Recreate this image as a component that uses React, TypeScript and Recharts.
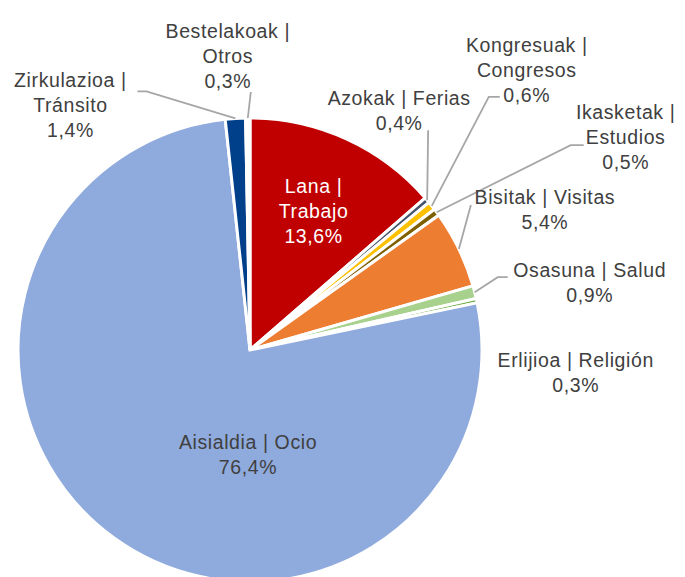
import React from 'react';
import { PieChart, Pie, Cell } from 'recharts';

const basque = ['Lana', 'Azokak', 'Kongresuak', 'Ikasketak', 'Bisitak', 'Osasuna', 'Erlijioa', 'Aisialdia', 'Zirkulazioa', 'Bestelakoak'];
const spanish = ['Trabajo', 'Ferias', 'Congresos', 'Estudios', 'Visitas', 'Salud', 'Religión', 'Ocio', 'Tránsito', 'Otros'];
const shares = [13.6, 0.4, 0.6, 0.5, 5.4, 0.9, 0.3, 76.4, 1.4, 0.3];
const colors = ['#C00000', '#44546A', '#FFC000', '#7F6000', '#ED7D31', '#A9D18E', '#70AD47', '#8FAADC', '#003F8A', '#FFFFFF'];

const data = basque.map((b, i) => ({ name: `${b} | ${spanish[i]}`, value: shares[i] }));

// label placement: text offset from slice edge, optional leader start / elbow (relative to edge)
type Layout = { dx: number; dy: number; wrap: boolean; inside?: number; color?: string; from?: [number, number]; elbow?: [number, number] };
const layout: Layout[] = [
  { dx: 0, dy: 0, wrap: true, inside: 0.66, color: '#FFFFFF' },
  { dx: -28, dy: -90, wrap: false, from: [1, -70] },
  { dx: 95, dy: -136, wrap: true, from: [68, -109], elbow: [57, -109] },
  { dx: 189, dy: -75, wrap: true, from: [147, -67], elbow: [134, -67] },
  { dx: 86, dy: -40, wrap: false, from: [12, -44] },
  { dx: 115, dy: -10, wrap: false, from: [33, -15], elbow: [23, -15] },
  { dx: 99, dy: 72, wrap: false },
  { dx: 0, dy: 0, wrap: false },
  { dx: -165, dy: -13, wrap: true, from: [-98, -27], elbow: [-89, -27] },
  { dx: -20, dy: -62, wrap: true, from: [3, -26] },
];

const RADIAN = Math.PI / 180;
const LINE_H = 25;

const renderLabel = (props: any) => {
  const { cx, cy, midAngle, outerRadius, index, value } = props;
  const l = layout[index];
  const ex = cx + outerRadius * Math.cos(-midAngle * RADIAN);
  const ey = cy + outerRadius * Math.sin(-midAngle * RADIAN);
  let tx = ex + l.dx;
  let ty = ey + l.dy;
  if (l.inside) {
    tx = cx + outerRadius * l.inside * Math.cos(-midAngle * RADIAN);
    ty = cy + outerRadius * l.inside * Math.sin(-midAngle * RADIAN);
  }
  if (index === 7) {
    // Aisialdia label sits below the centre
    tx = cx - 2;
    ty = cy + outerRadius * 0.45;
  }
  const pct = value.toFixed(1).replace('.', ',') + '%';
  const lines = l.wrap ? [`${basque[index]} |`, spanish[index], pct] : [`${basque[index]} | ${spanish[index]}`, pct];
  const top = ty - ((lines.length - 1) * LINE_H) / 2;
  let leader = null;
  if (l.from) {
    const pts = [[ex + l.from[0], ey + l.from[1]]];
    if (l.elbow) pts.push([ex + l.elbow[0], ey + l.elbow[1]]);
    pts.push([ex, ey]);
    leader = <polyline points={pts.map((p) => p.join(',')).join(' ')} fill="none" stroke="#A6A6A6" strokeWidth={1.8} />;
  }
  return (
    <g key={`lbl-${index}`}>
      {leader}
      <text
        x={tx}
        y={top}
        textAnchor="middle"
        dominantBaseline="central"
        fill={l.color || '#404040'}
        fontFamily="'Liberation Sans', Arial, sans-serif"
        fontSize={19.5}
        letterSpacing={0.6}
      >
        {lines.map((s, i) => (
          <tspan key={i} x={tx} y={top + i * LINE_H}>{s}</tspan>
        ))}
      </text>
    </g>
  );
};

const App: React.FC = () => {
  return (
    <div style={{ position: 'absolute', left: 0, top: 0, width: 685, height: 577, background: '#fff' }}>
      <PieChart width={685} height={577}>
        <Pie
          data={data}
          dataKey="value"
          cx={245}
          cy={345}
          outerRadius={232}
          startAngle={90}
          endAngle={-270}
          stroke="#FFFFFF"
          strokeWidth={3}
          label={renderLabel}
          labelLine={false}
          isAnimationActive={false}
        >
          {data.map((d, i) => (
            <Cell key={d.name} fill={colors[i]} />
          ))}
        </Pie>
      </PieChart>
    </div>
  );
};

export default App;
